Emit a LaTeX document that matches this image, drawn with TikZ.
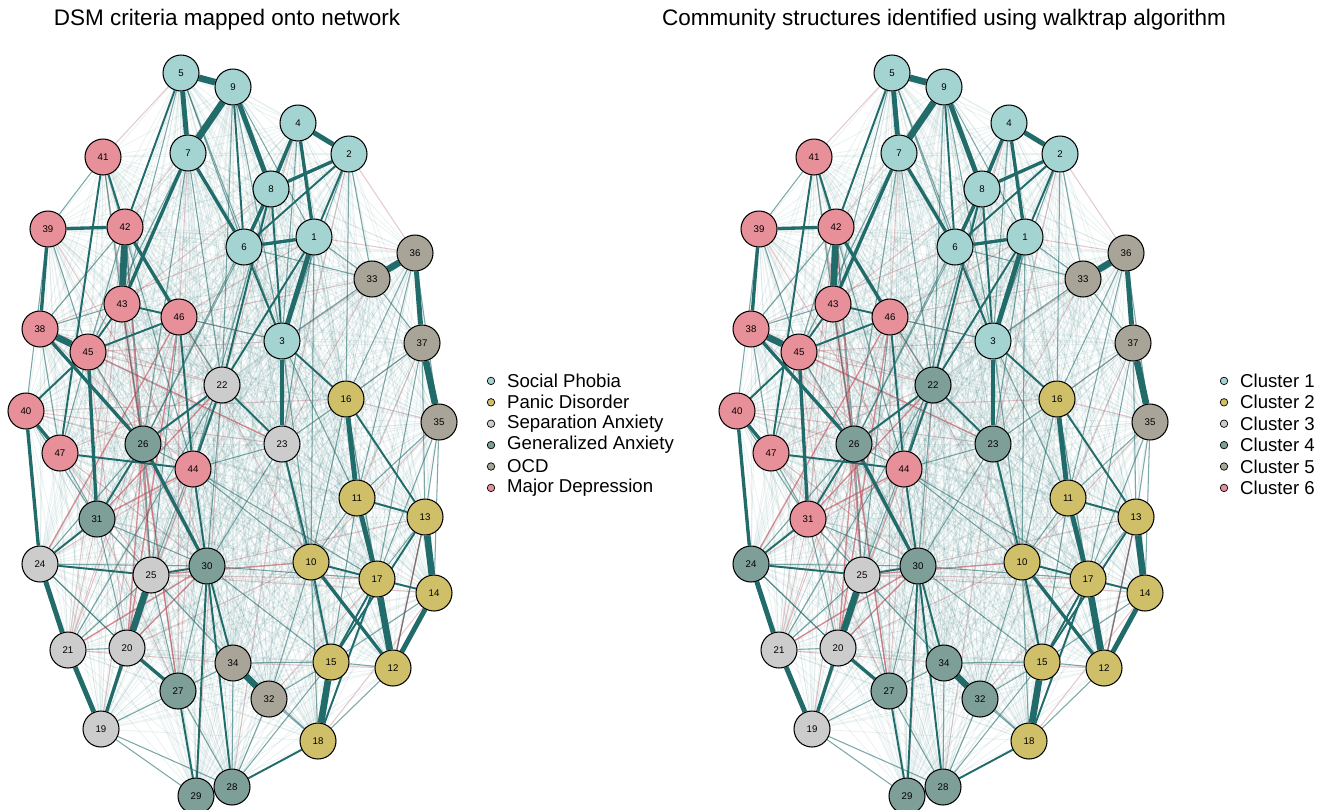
\documentclass[tikz,border=0pt]{standalone}
\usepackage{fontspec}
\setmainfont{Liberation Sans}
\usetikzlibrary{backgrounds}

\definecolor{spcol}{HTML}{A3D4D1}
\definecolor{pdcol}{HTML}{CFBF68}
\definecolor{sacol}{HTML}{CCCCCC}
\definecolor{gacol}{HTML}{7E9F98}
\definecolor{ocdcol}{HTML}{A8A598}
\definecolor{mdcol}{HTML}{E8909A}
\definecolor{poscol}{HTML}{226B6B}
\definecolor{negcol}{HTML}{C8505C}

% node list: id / x / y / left group / right cluster
\newcommand\netnodes{1/314/237/sp/sp, 2/349/154/sp/sp, 3/282/341/sp/sp,
  4/298/123/sp/sp, 5/181/73/sp/sp, 6/244/247/sp/sp, 7/188/153/sp/sp,
  8/271/189/sp/sp, 9/233/87/sp/sp, 10/311/562/pd/pd, 11/357/498/pd/pd,
  12/393/668/pd/pd, 13/425/517/pd/pd, 14/434/593/pd/pd, 15/331/662/pd/pd,
  16/346/399/pd/pd, 17/377/579/pd/pd, 18/318/741/pd/pd, 19/101/729/sa/sa,
  20/127/648/sa/sa, 21/68/650/sa/sa, 22/222/385/sa/ga, 23/282/444/sa/ga,
  24/40/564/sa/ga, 25/151/575/sa/sa, 26/143/444/ga/ga, 27/178/691/ga/ga,
  28/232/787/ga/ga, 29/196/796/ga/ga, 30/207/566/ga/ga, 31/97/519/ga/md,
  32/269/699/ocd/ga, 33/372/279/ocd/ocd, 34/233/663/ocd/ga, 35/439/422/ocd/ocd,
  36/415/253/ocd/ocd, 37/422/343/ocd/ocd, 38/40/329/md/md, 39/48/229/md/md,
  40/26/411/md/md, 41/103/157/md/md, 42/125/227/md/md, 43/122/304/md/md,
  44/193/469/md/md, 45/88/352/md/md, 46/179/317/md/md, 47/60/453/md/md}

\tikzset{
  symptom/.style={circle, draw=black, line width=0.6pt, minimum size=0.72cm,
    inner sep=0pt, font=\fontsize{5.5}{6}\selectfont},
  sp/.style={symptom, fill=spcol}, pd/.style={symptom, fill=pdcol},
  sa/.style={symptom, fill=sacol}, ga/.style={symptom, fill=gacol},
  ocd/.style={symptom, fill=ocdcol}, md/.style={symptom, fill=mdcol},
  faint/.style={draw=poscol, opacity=0.09, line width=0.5pt},
  pos0/.style={draw=poscol, opacity=0.55, line width=0.6pt},
  pos1/.style={draw=poscol, line width=1.1pt},
  pos2/.style={draw=poscol, line width=1.9pt},
  pos3/.style={draw=poscol, line width=2.8pt},
  pos4/.style={draw=poscol, line width=3.8pt},
  neg0/.style={draw=negcol, opacity=0.25, line width=0.6pt},
  neg1/.style={draw=negcol, opacity=0.6, line width=0.8pt},
  title/.style={font=\fontsize{12.8}{15}\selectfont},
  key/.style={anchor=west, font=\fontsize{10.6}{12}\selectfont},
  keydot/.style={circle, draw=black, line width=0.4pt, minimum size=0.15cm, inner sep=0pt}
}

\begin{document}
\begin{tikzpicture}[x=0.02cm, y=-0.02cm]
  \useasboundingbox (0,0) rectangle (1327,809);

  % titles
  \node[title] (lefttitle) at (227,20) {DSM criteria mapped onto network};
  \node[title] (righttitle) at (944,20) {Community structures identified using walktrap algorithm};

  % symptoms, left network coloured by disorder, right by cluster
  \foreach \n/\x/\y/\a/\b in \netnodes {
    \node[\a] (L\n) at (\x,\y) {\n};
    \node[\b] (R\n) at ({\x+711},\y) {\n};
  }

  \begin{scope}[on background layer]
    % weak associations
    \foreach \i in {1,...,46} {
      \pgfmathtruncatemacro\k{\i+1}
      \foreach \j in {\k,...,47}
        \draw[faint] (L\i) -- (L\j) (R\i) -- (R\j);
    }
    \foreach \a/\b in {45/22, 42/22, 38/22, 40/16, 43/3, 2/36, 1/36, 47/22, 21/42,
        24/44, 26/21, 25/17, 46/10, 41/26, 39/44, 43/30, 45/30, 47/25, 40/23,
        46/27, 44/20, 22/19, 26/27, 3/45, 7/46, 9/42, 5/41, 8/43, 6/38, 1/46,
        33/23, 37/11, 36/3, 35/16, 13/12, 31/21, 30/13, 25/14, 20/10, 21/34,
        42/31, 43/25, 46/21, 38/44, 45/20, 40/26, 47/30, 31/27, 26/19, 44/27,
        22/29, 23/28, 2/23, 4/22, 33/46, 37/16, 35/10, 17/32, 12/34, 14/18}
      \draw[neg0] (L\a) -- (L\b) (R\a) -- (R\b);
    \foreach \a/\b in {30/21, 30/20, 46/20, 44/31, 45/23, 31/22, 42/25, 26/20,
        24/46, 13/12, 25/10, 43/27}
      \draw[neg1] (L\a) -- (L\b) (R\a) -- (R\b);
    \foreach \a/\b in {5/43, 5/6, 5/3, 9/3, 9/1, 7/45, 7/22, 41/39, 41/43,
        41/44, 39/45, 39/40, 42/38, 42/45, 42/26, 43/38, 43/26, 46/22, 46/3,
        46/25, 45/26, 45/47, 40/31, 38/47, 47/31, 26/44, 26/25, 26/24, 44/10,
        44/23, 44/17, 22/25, 22/30, 22/21, 23/15, 23/30, 3/11, 3/10, 1/33,
        6/33, 33/37, 36/16, 37/16, 35/11, 35/13, 35/17, 16/10, 11/10, 11/15,
        13/17, 13/12, 14/15, 12/15, 12/18, 10/18, 10/32, 15/32, 15/28, 15/34,
        34/18, 34/27, 34/28, 27/28, 27/30, 20/21, 20/24, 21/25, 19/27, 19/29,
        19/28, 24/20, 25/27, 25/34, 29/28, 32/28, 32/18, 31/25, 31/30, 31/20,
        24/30, 33/3, 36/35, 23/16, 30/15, 30/17, 6/26, 8/26, 1/23, 2/3, 2/33,
        4/3, 9/22, 7/26, 8/44, 1/10, 2/16, 36/11, 37/13, 35/14, 37/17, 16/17}
      \draw[pos0] (L\a) -- (L\b) (R\a) -- (R\b);
    % stronger associations
    \foreach \a/\b in {24/25, 25/30, 47/44, 16/13, 11/13, 10/17, 17/14,
        17/15, 10/15, 22/23, 3/16, 6/3, 8/3, 5/42, 41/42, 45/40, 43/45,
        46/44, 30/29, 27/29, 30/28, 18/17, 31/24, 31/26, 44/30, 30/34,
        13/15, 18/28, 2/1, 2/6, 41/47, 43/46, 45/46, 22/26, 23/10, 22/44,
        9/6, 4/6, 8/22, 1/22}
      \draw[pos1] (L\a) -- (L\b) (R\a) -- (R\b);
    \foreach \a/\b in {4/8, 4/1, 2/8, 6/1, 39/42, 39/38, 40/47, 40/24,
        45/31, 26/30, 20/19, 20/27, 3/23, 42/46, 7/6, 7/43, 10/12, 8/6, 38/26}
      \draw[pos2] (L\a) -- (L\b) (R\a) -- (R\b);
    \foreach \a/\b in {5/7, 9/8, 21/19, 24/21, 36/37, 12/14, 16/11, 11/17,
        1/3, 4/2}
      \draw[pos3] (L\a) -- (L\b) (R\a) -- (R\b);
    \foreach \a/\b in {5/9, 9/7, 42/43, 25/20, 34/32, 15/18, 17/12, 36/33,
        37/35, 38/45, 14/13}
      \draw[pos4] (L\a) -- (L\b) (R\a) -- (R\b);
  \end{scope}

  % legends
  \foreach \t/\c [count=\r] in {Social Phobia/spcol, Panic Disorder/pdcol,
      Separation Anxiety/sacol, Generalized Anxiety/gacol, OCD/ocdcol,
      Major Depression/mdcol} {
    \node[keydot, fill=\c] (ldot\r) at (491,{359.5+21.4*\r}) {};
    \node[key] (lkey\r) at (501,{359.5+21.4*\r}) {\t};
  }
  \foreach \c [count=\r] in {spcol, pdcol, sacol, gacol, ocdcol, mdcol} {
    \node[keydot, fill=\c] (rdot\r) at (1224,{359.5+21.4*\r}) {};
    \node[key] (rkey\r) at (1234,{359.5+21.4*\r}) {Cluster \r};
  }
\end{tikzpicture}
\end{document}
